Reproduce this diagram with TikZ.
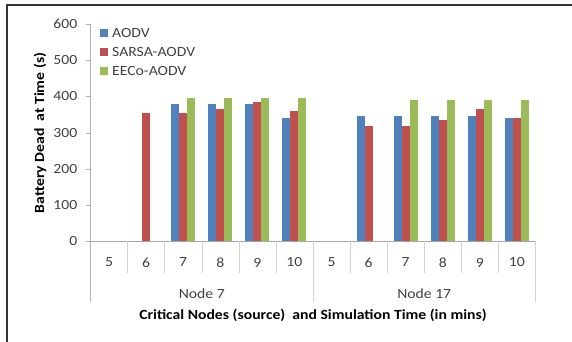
\documentclass[tikz,border=0pt]{standalone}
\usepackage{fontspec}
\setmainfont[FakeStretch=1.12]{Carlito}
\definecolor{aodv}{HTML}{4F81BD}
\definecolor{sarsa}{HTML}{C0504D}
\definecolor{eeco}{HTML}{9BBB59}
\definecolor{txtgray}{HTML}{404040}
\tikzset{
  lbl/.style={font=\fontsize{14}{16}\selectfont,text=txtgray,inner sep=0pt},
  ttl/.style={font=\fontsize{14}{16}\selectfont\bfseries,inner sep=0pt},
  bar/.style={draw=none}
}
\begin{document}
\begin{tikzpicture}[x=1pt,y=1pt]
	\useasboundingbox (-90.5,-100.5) rectangle (481.5,241.5);
	\def\w{37.08} % largeur d'une categorie
	\def\s{0.3625} % echelle verticale
	% cadre
	\draw[line width=1.5pt,black!80] (-83.5,-101) -- (-83.5,236.5) -- (482,236.5);
	% axes
	\draw[gray!60] (0,-60.5) -- (0,217.5);
	\draw[gray!70] (0,0) -- (12*\w,0);
	\foreach \v in {0,100,...,600}{
		\draw[gray!60] (-5,\v*\s) -- (0,\v*\s);
		\node[lbl,anchor=east] (y\v) at (-13,\v*\s) {\v};
	}
	\foreach \k in {1,...,5,7,8,...,11}
		\draw[gray!35] (\k*\w,0) -- (\k*\w,-31);
	\foreach \k in {6,12}
		\draw[gray!35] (\k*\w,0) -- (\k*\w,-60.5);
	% etiquettes des categories
	\foreach \t [count=\i from 0] in {5,6,7,8,9,10,5,6,7,8,9,10}
		\node[lbl] (c\i) at ({(\i+0.5)*\w},-21) {\t};
	\node[lbl] (n7) at (3*\w,-52) {Node 7};
	\node[lbl] (n17) at (9*\w,-52) {Node 17};
	% barres
	\foreach \i/\a/\b/\c in {1/0/355/0,2/378/354/397,3/378/366/397,4/378/385/397,5/341/360/397,
		7/347/319/0,8/347/319/391,9/347/335/391,10/347/366/391,11/341/341/391}{
		\fill[aodv] ({(\i+0.5)*\w-12},0) rectangle ++(8,\a*\s);
		\fill[sarsa] ({(\i+0.5)*\w-4},0) rectangle ++(8,\b*\s);
		\fill[eeco] ({(\i+0.5)*\w+4},0) rectangle ++(8,\c*\s);
	}
	% legende
	\foreach \col/\nom/\yy in {aodv/AODV/208.5,sarsa/SARSA-AODV/189,eeco/EECo-AODV/170}{
		\fill[\col] (9.5,\yy-4) rectangle ++(8,8);
		\node[lbl,anchor=west] (l\col) at (21.5,\yy) {\nom};
	}
	% titres
	\node[ttl] (xt) at (6*\w,-74) {Critical Nodes (source)\ \ and Simulation Time (in mins)};
	\node[ttl,rotate=90] (yt) at (-50.5,108.5) {Battery Dead\ \ at Time (s)};
\end{tikzpicture}
\end{document}
